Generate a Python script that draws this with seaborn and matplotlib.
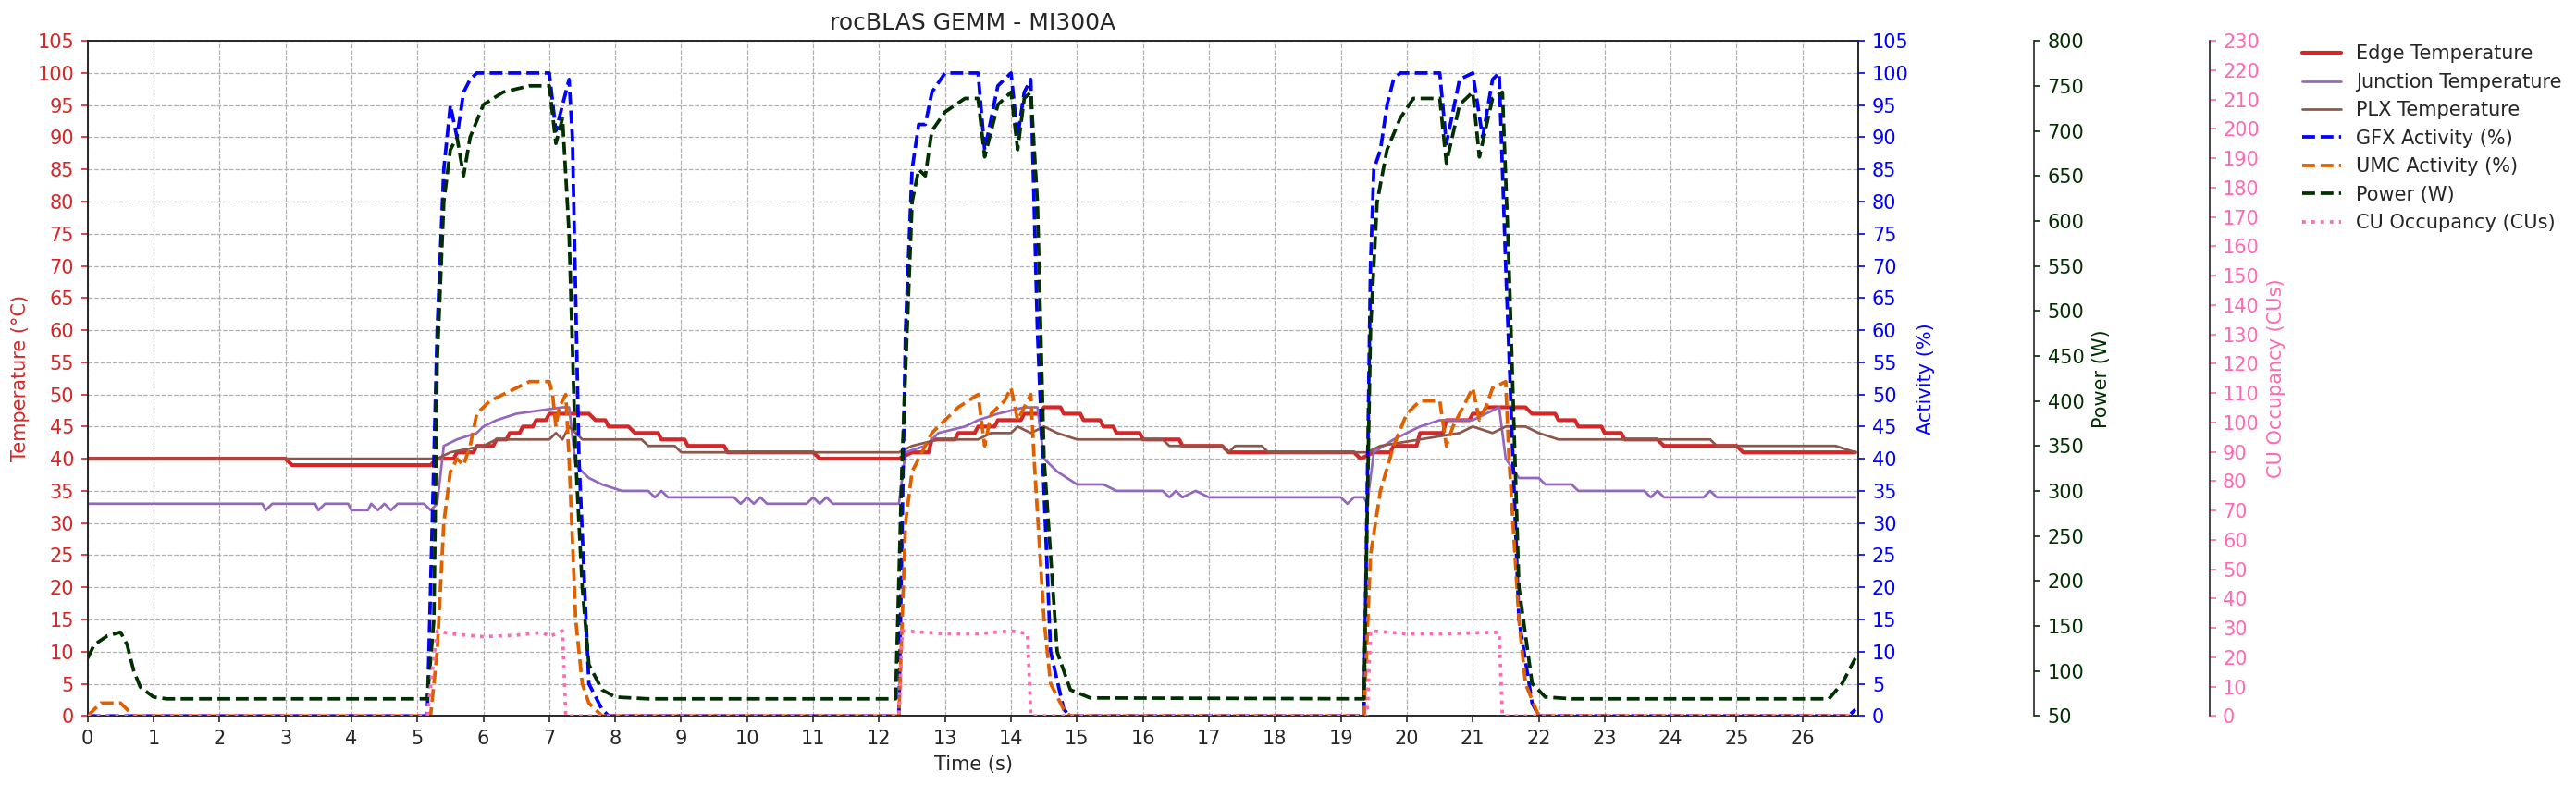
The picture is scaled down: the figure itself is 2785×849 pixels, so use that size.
import numpy as np
import pandas as pd
import matplotlib
matplotlib.use("Agg")
import matplotlib.pyplot as plt
import seaborn as sns

# Edge temperature (C)
edge_t = [0, 3.0, 3.1, 5.2, 5.3, 5.55, 5.6, 5.85, 5.9, 6.15, 6.2, 6.35, 6.4, 6.55, 6.6, 6.75, 6.8, 6.95, 7.0, 7.6, 7.7, 7.85, 7.9, 8.2, 8.3, 8.65, 8.7, 9.05, 9.1, 9.65, 9.7, 11.0, 11.1, 12.3,
          12.5, 12.75, 12.8, 13.15, 13.2, 13.45, 13.5, 13.75, 13.8, 14.15, 14.2, 14.45, 14.5, 14.75, 14.8, 15.05, 15.1, 15.35, 15.4, 15.55, 15.6, 15.95, 16.0, 16.55, 16.6, 17.2, 17.3, 19.2, 19.3,
          19.5, 19.75, 19.8, 20.15, 20.2, 20.55, 20.6, 20.95, 21.0, 21.15, 21.2, 21.8, 21.9, 22.25, 22.3, 22.55, 22.6, 22.95, 23.0, 23.25, 23.3, 23.8, 23.9, 25.0, 25.1, 26.8]
edge_v = [40, 40, 39, 39, 40, 40, 41, 41, 42, 42, 43, 43, 44, 44, 45, 45, 46, 46, 47, 47, 46, 46, 45, 45, 44, 44, 43, 43, 42, 42, 41, 41, 40, 40,
          41, 41, 43, 43, 44, 44, 45, 45, 46, 46, 47, 47, 48, 48, 47, 47, 46, 46, 45, 45, 44, 44, 43, 43, 42, 42, 41, 41, 40,
          41, 41, 42, 42, 44, 44, 46, 46, 47, 47, 48, 48, 47, 47, 46, 46, 45, 45, 44, 44, 43, 43, 42, 42, 41, 41]

# Junction temperature (C)
junc_t = [0, 2.65, 2.7, 2.8, 3.45, 3.5, 3.6, 3.95, 4.0, 4.25, 4.3, 4.4, 4.5, 4.6, 4.7, 5.1, 5.2, 5.3, 5.4, 5.6, 5.9, 6.0, 6.2, 6.5, 7.2, 7.3, 7.4, 7.6, 7.8, 8.1, 8.5, 8.6, 8.7, 8.8, 9.8, 9.9, 10.0, 10.1, 10.2, 10.3, 10.9, 11.0, 11.1, 11.2, 11.3, 12.3,
          12.4, 12.7, 12.9, 13.3, 13.5, 13.8, 14.2, 14.4, 14.5, 14.7, 15.0, 15.4, 15.6, 16.3, 16.4, 16.5, 16.6, 16.8, 17.0, 19.0, 19.1, 19.2, 19.35, 19.4,
          19.5, 19.8, 20.0, 20.2, 20.5, 21.0, 21.2, 21.4, 21.5, 21.7, 22.0, 22.1, 22.5, 22.6, 23.6, 23.7, 23.8, 23.9, 24.5, 24.6, 24.7, 26.8]
junc_v = [33, 33, 32, 33, 33, 32, 33, 33, 32, 32, 33, 32, 33, 32, 33, 33, 32, 33, 42, 43, 44, 45, 46, 47, 48, 48, 39, 37, 36, 35, 35, 34, 35, 34, 34, 33, 34, 33, 34, 33, 33, 34, 33, 34, 33, 33,
          41, 42, 44, 45, 46, 47, 48, 48, 40, 38, 36, 36, 35, 35, 34, 35, 34, 35, 34, 34, 33, 34, 34, 33,
          41, 43, 44, 45, 46, 46, 47, 48, 40, 37, 37, 36, 36, 35, 35, 34, 35, 34, 34, 35, 34, 34]

# PLX temperature (C)
plx_t = [0, 5.3, 5.5, 6.0, 6.2, 7.0, 7.1, 7.2, 7.3, 7.5, 8.4, 8.5, 8.9, 9.0, 12.3, 12.5, 12.9, 13.5, 13.7, 14.0, 14.1, 14.3, 14.5, 14.7, 15.0, 16.3, 16.4, 17.2, 17.3, 17.4, 17.8, 17.9, 19.4,
         19.6, 20.2, 20.8, 21.0, 21.3, 21.5, 21.8, 22.0, 22.3, 24.6, 24.7, 26.5, 26.8]
plx_v = [40, 40, 41, 42, 43, 43, 44, 43, 45, 43, 43, 42, 42, 41, 41, 42, 43, 43, 44, 44, 45, 44, 45, 44, 43, 43, 42, 42, 41, 42, 42, 41, 41,
         42, 43, 44, 45, 44, 45, 45, 44, 43, 43, 42, 42, 41]

# GFX activity (%)
gfx_t = [0, 5.15, 5.2, 5.3, 5.4, 5.5, 5.6, 5.7, 5.8, 5.9, 7.0, 7.1, 7.2, 7.3, 7.35, 7.45, 7.6, 7.8, 7.9, 12.3,
         12.4, 12.5, 12.6, 12.7, 12.8, 13.0, 13.5, 13.6, 13.8, 14.0, 14.1, 14.2, 14.3, 14.4, 14.6, 14.8, 14.9, 19.35,
         19.45, 19.5, 19.6, 19.7, 19.8, 19.9, 20.5, 20.6, 20.8, 21.0, 21.15, 21.3, 21.4, 21.5, 21.7, 21.9, 22.0, 26.7, 26.8]
gfx_v = [0, 0, 20, 60, 85, 95, 90, 97, 99, 100, 100, 91, 95, 99, 90, 40, 5, 1, 0, 0,
         60, 85, 92, 92, 97, 100, 100, 88, 98, 100, 90, 97, 99, 60, 10, 1, 0, 0,
         70, 85, 88, 95, 99, 100, 100, 89, 99, 100, 90, 99, 100, 70, 15, 2, 0, 0, 1]

# UMC activity (%)
umc_t = [0, 0.1, 0.2, 0.5, 0.6, 0.7, 5.2, 5.3, 5.4, 5.5, 5.6, 5.7, 5.8, 5.9, 6.1, 6.3, 6.5, 6.7, 7.0, 7.05, 7.1, 7.15, 7.25, 7.3, 7.4, 7.5, 7.6, 7.8, 12.3,
         12.4, 12.5, 12.6, 12.7, 12.8, 13.0, 13.2, 13.5, 13.6, 13.7, 13.9, 14.0, 14.1, 14.2, 14.3, 14.35, 14.5, 14.6, 14.8, 14.9, 19.35,
         19.45, 19.6, 19.8, 20.0, 20.2, 20.5, 20.6, 20.7, 20.9, 21.0, 21.1, 21.2, 21.3, 21.5, 21.55, 21.7, 21.8, 22.0, 26.8]
umc_v = [0, 1, 2, 2, 1, 0, 0, 10, 30, 38, 40, 39, 42, 47, 49, 50, 51, 52, 52, 50, 45, 48, 50, 40, 15, 5, 2, 0, 0,
         30, 38, 40, 42, 44, 46, 48, 50, 42, 47, 49, 51, 46, 48, 50, 40, 15, 5, 1, 0, 0,
         25, 35, 42, 47, 49, 49, 42, 45, 49, 51, 46, 48, 51, 52, 40, 15, 5, 0, 0]

# Power (W)
pwr_t = [0, 0.1, 0.3, 0.5, 0.6, 0.7, 0.8, 1.0, 1.2, 5.15, 5.25, 5.3, 5.4, 5.5, 5.6, 5.7, 5.8, 6.0, 6.3, 6.7, 7.0, 7.1, 7.2, 7.3, 7.4, 7.5, 7.6, 7.8, 8.0, 8.5, 12.25,
         12.35, 12.5, 12.6, 12.7, 12.8, 13.0, 13.3, 13.5, 13.6, 13.8, 14.0, 14.1, 14.2, 14.3, 14.4, 14.5, 14.7, 14.9, 15.2, 19.35,
         19.45, 19.55, 19.7, 19.9, 20.1, 20.5, 20.6, 20.8, 21.0, 21.1, 21.3, 21.45, 21.55, 21.7, 21.9, 22.1, 22.5, 26.4, 26.6, 26.8]
pwr_v = [114, 129, 139, 143, 129, 100, 82, 71, 69, 69, 157, 443, 621, 679, 693, 650, 693, 729, 743, 750, 750, 686, 714, 586, 336, 193, 107, 79, 71, 69, 69,
         336, 621, 657, 650, 700, 721, 736, 736, 671, 729, 743, 679, 736, 743, 621, 336, 121, 79, 70, 69,
         479, 621, 679, 714, 736, 736, 664, 729, 743, 671, 736, 743, 550, 193, 86, 71, 69, 69, 86, 114]

# CU occupancy (CUs)
cu_t = [0, 5.15, 5.25, 5.3, 5.5, 6.0, 6.5, 6.9, 7.0, 7.2, 7.25, 12.3, 12.35, 13.0, 13.5, 14.0, 14.25, 14.3, 19.4, 19.45, 20.0, 20.5, 21.4, 21.45, 26.8]
cu_v = [0, 0, 20, 29, 28, 27, 27.5, 28.5, 27, 29, 0, 0, 29, 28, 28, 29, 28, 0, 0, 29, 28, 28, 28.5, 0, 0]

sns.set_style("ticks")
plt.rcParams["font.family"] = ["DejaVu Sans"]

fig = plt.figure(figsize=(18.567, 5.66), dpi=150)
ax = fig.add_axes([0.034, 0.088, 0.6875, 0.86])
ax_act = ax.twinx()
ax_pwr = ax.twinx()
ax_cu = ax.twinx()
ax_pwr.spines["right"].set_position(("axes", 1.099))
ax_cu.spines["right"].set_position(("axes", 1.198))

series = [
    (ax, edge_t, edge_v, "Edge Temperature", "#d62728", "-", 2.0),
    (ax, junc_t, junc_v, "Junction Temperature", "#9467bd", "-", 1.3),
    (ax, plx_t, plx_v, "PLX Temperature", "#8c564b", "-", 1.3),
    (ax_act, gfx_t, gfx_v, "GFX Activity (%)", "blue", "--", 1.8),
    (ax_act, umc_t, umc_v, "UMC Activity (%)", "#e06000", "--", 1.8),
    (ax_pwr, pwr_t, pwr_v, "Power (W)", "#003000", "--", 1.8),
    (ax_cu, cu_t, cu_v, "CU Occupancy (CUs)", "#ff69b4", ":", 1.8),
]
handles = []
for a, t, v, label, color, ls, lw in series:
    df = pd.DataFrame({"t": t, "v": v})
    sns.lineplot(data=df, x="t", y="v", ax=a, color=color, linestyle=ls, linewidth=lw,
                 label=label, legend=False, sort=False)
    handles.append(a.lines[-1])

xmax = 26.85
for a in (ax, ax_act, ax_pwr, ax_cu):
    a.set_xlim(0, xmax)
ax.set_xticks(range(0, 27))
ax.set_ylim(0, 105)
ax.set_yticks(range(0, 106, 5))
ax_act.set_ylim(0, 105)
ax_act.set_yticks(range(0, 106, 5))
ax_pwr.set_ylim(50, 800)
ax_pwr.set_yticks(range(50, 801, 50))
ax_cu.set_ylim(0, 230)
ax_cu.set_yticks(range(0, 231, 10))

ax.grid(True, linestyle="--", color="#b0b0b0", linewidth=0.6)
ax.set_xlabel("Time (s)", fontsize=10)
ax.set_ylabel("Temperature (°C)", color="#d62728", fontsize=10)
ax.tick_params(axis="y", colors="#d62728", labelsize=10)
ax.tick_params(axis="x", labelsize=10)
ax_act.set_ylabel("Activity (%)", color="blue", fontsize=10)
ax_act.tick_params(axis="y", colors="blue", labelsize=10)
ax_pwr.set_ylabel("Power (W)", color="#003000", fontsize=10)
ax_pwr.tick_params(axis="y", colors="#003000", labelsize=10)
ax_cu.set_ylabel("CU Occupancy (CUs)", color="#ff69b4", fontsize=10)
ax_cu.tick_params(axis="y", colors="#ff69b4", labelsize=10)
for a in (ax_pwr, ax_cu):
    for s in ("top", "bottom", "left"):
        a.spines[s].set_visible(False)
ax.set_title("rocBLAS GEMM - MI300A", fontsize=12)

fig.legend(handles=handles, labels=[s[3] for s in series], loc="upper left",
           bbox_to_anchor=(0.887, 0.965), frameon=False, fontsize=10)

fig.savefig("out.png", dpi=150)
